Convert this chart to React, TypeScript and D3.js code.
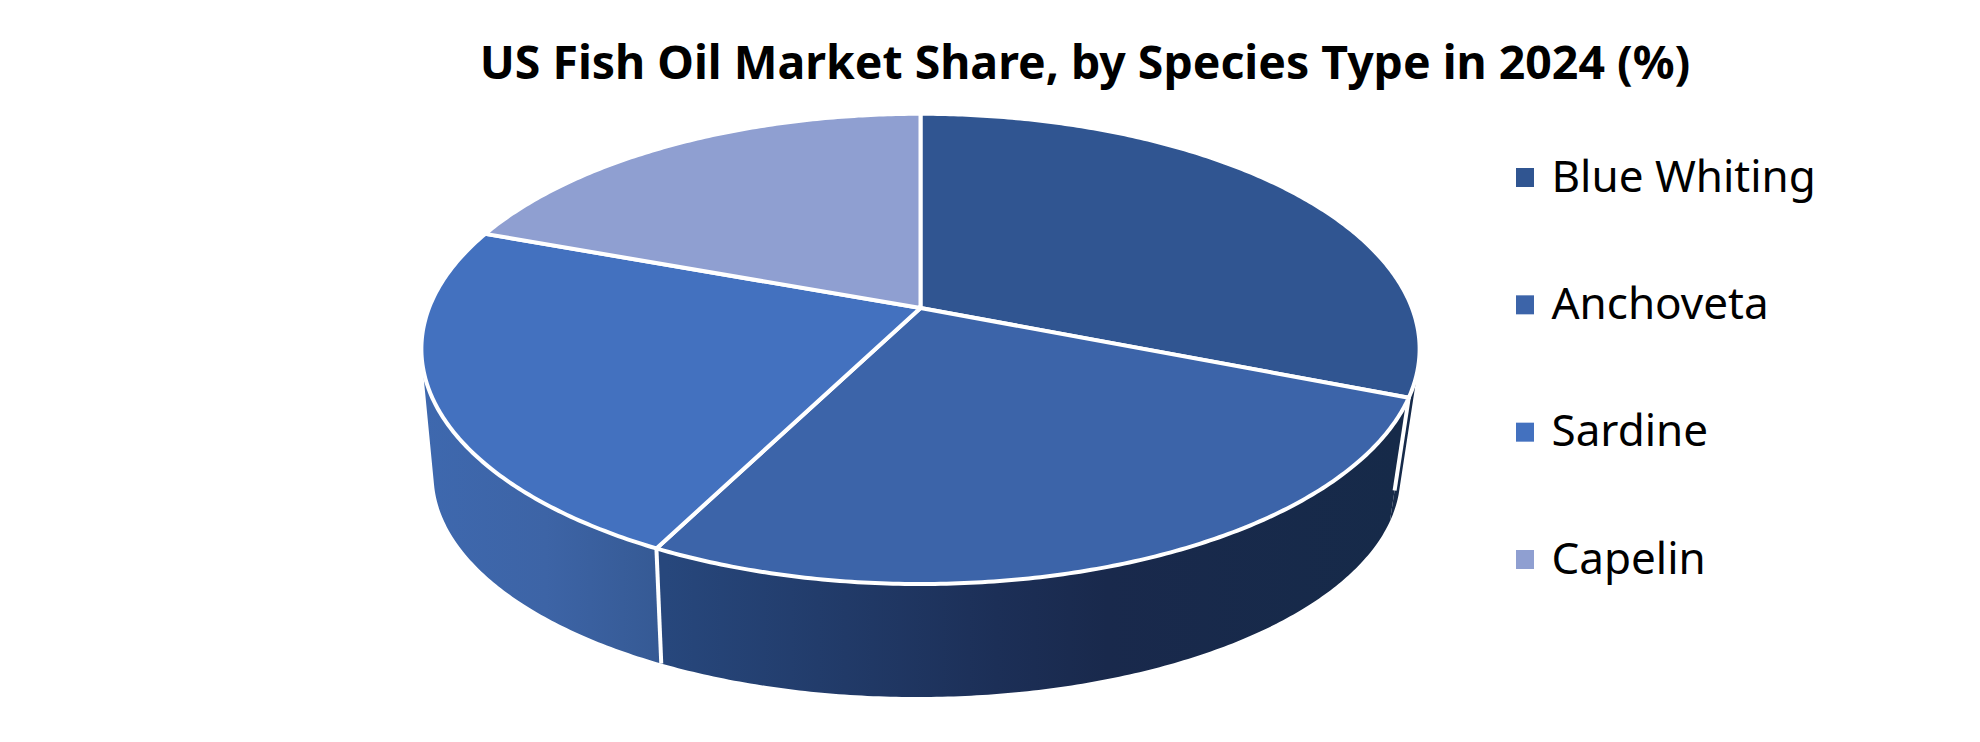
import React from 'react';
import * as d3 from 'd3';

const species = ['Blue Whiting', 'Anchoveta', 'Sardine', 'Capelin'];
const shares = [31, 26.5, 23.1, 19.4];
const colors = ['#305591', '#3c64a9', '#4371bf', '#8f9fd1'];
const title = 'US Fish Oil Market Share, by Species Type in 2024 (%)';

const width = 1980;
const height = 742;
const fontFamily = '"Noto Sans", sans-serif';

// perspective disc: unit circle -> screen, same tilt for the top face and the bottom rim
const tilt = 0.174;
const topDisc = { x: 920.5, y: 308, rx: 491.5, ry: 228 };
const bottomDisc = { x: 917, y: 437, rx: 476, ry: 214.8 };

type Disc = typeof topDisc;
type Pt = [number, number];

const project = (disc: Disc, angle: number): Pt => {
  const u = Math.sin(angle);
  const v = -Math.cos(angle);
  const w = 1 - tilt * v;
  return [disc.x + (disc.rx * u) / w, disc.y + (disc.ry * v) / w];
};

const App: React.FC = () => {
  const svgRef = React.useRef<SVGSVGElement>(null);

  React.useEffect(() => {
    const svg = d3.select(svgRef.current!);
    svg.selectAll('*').remove();

    const slices = d3.pie<number>().sort(null)(shares);
    const line = d3.line();
    const steps = (a: number, b: number) => d3.range(a, b, 0.01).concat(b);

    const defs = svg.append('defs');
    const addGradient = (id: string, x1: number, x2: number, stops: [number, string][]) => {
      const g = defs.append('linearGradient')
        .attr('id', id)
        .attr('gradientUnits', 'userSpaceOnUse')
        .attr('x1', x1).attr('x2', x2).attr('y1', 0).attr('y2', 0);
      stops.forEach(([o, c]) => g.append('stop').attr('offset', o).attr('stop-color', c));
    };
    addGradient('wall-0', 1380, 1420, [[0, '#162a49'], [1, '#162a49']]);
    addGradient('wall-1', 667, 1400, [[0, '#27477c'], [0.45, '#1c2f57'], [0.6, '#19294c'], [1, '#162a49']]);
    addGradient('wall-2', 424, 667, [[0, '#3e68ae'], [0.5, '#3d64a6'], [1, '#355993']]);
    addGradient('wall-3', 424, 667, [[0, '#3e68ae'], [1, '#3e68ae']]);

    // side walls, one quad per step so the silhouette comes out right
    const walls = svg.append('g');
    slices.forEach((s, i) => {
      const angles = steps(s.startAngle, s.endAngle);
      const quads = d3.pairs(angles).map(([a, b]) => {
        const quad: Pt[] = [project(topDisc, a), project(topDisc, b), project(bottomDisc, b), project(bottomDisc, a)];
        return d3.polygonArea(quad) < 0 ? quad.reverse() : quad;
      });
      walls.append('path')
        .attr('d', quads.map(q => line(q) + 'Z').join(''))
        .attr('fill', `url(#wall-${i})`)
        .attr('fill-rule', 'nonzero');
    });

    // white dividers on the wall
    const walled = [
      { angle: slices[1].startAngle, reach: 0.75 },
      { angle: slices[2].startAngle, reach: 1 },
    ];
    walled.forEach(({ angle, reach }) => {
      const a = project(topDisc, angle);
      const b = project(bottomDisc, angle);
      svg.append('path')
        .attr('d', line([a, [a[0] + (b[0] - a[0]) * reach, a[1] + (b[1] - a[1]) * reach]]))
        .attr('stroke', '#fff')
        .attr('stroke-width', 4)
        .attr('fill', 'none');
    });

    // top face
    const apex: Pt = [topDisc.x, topDisc.y];
    svg.append('g')
      .selectAll('path')
      .data(slices)
      .join('path')
      .attr('d', s => line([apex, ...steps(s.startAngle, s.endAngle).map(a => project(topDisc, a))]) + 'Z')
      .attr('fill', (_, i) => colors[i])
      .attr('stroke', '#fff')
      .attr('stroke-width', 4)
      .attr('stroke-linejoin', 'round');

    svg.append('text')
      .attr('x', 1085)
      .attr('y', 79)
      .attr('text-anchor', 'middle')
      .attr('font-family', fontFamily)
      .attr('font-weight', 700)
      .attr('font-size', 46.4)
      .attr('fill', '#000')
      .text(title);

    const legendY = d3.scalePoint<string>().domain(species).range([177.5, 559.5]);
    const legend = svg.append('g')
      .selectAll('g')
      .data(species)
      .join('g')
      .attr('transform', d => `translate(1516, ${legendY(d)})`);
    legend.append('rect')
      .attr('y', -9.5)
      .attr('width', 18)
      .attr('height', 19)
      .attr('fill', (_, i) => colors[i]);
    legend.append('text')
      .attr('x', 35.5)
      .attr('y', 14)
      .attr('font-family', fontFamily)
      .attr('font-size', 44)
      .attr('fill', '#000')
      .text(d => d);
  }, []);

  return (
    <svg
      ref={svgRef}
      width={width}
      height={height}
      style={{ position: 'absolute', left: 0, top: 0, display: 'block', background: '#fff' }}
    />
  );
};

export default App;
